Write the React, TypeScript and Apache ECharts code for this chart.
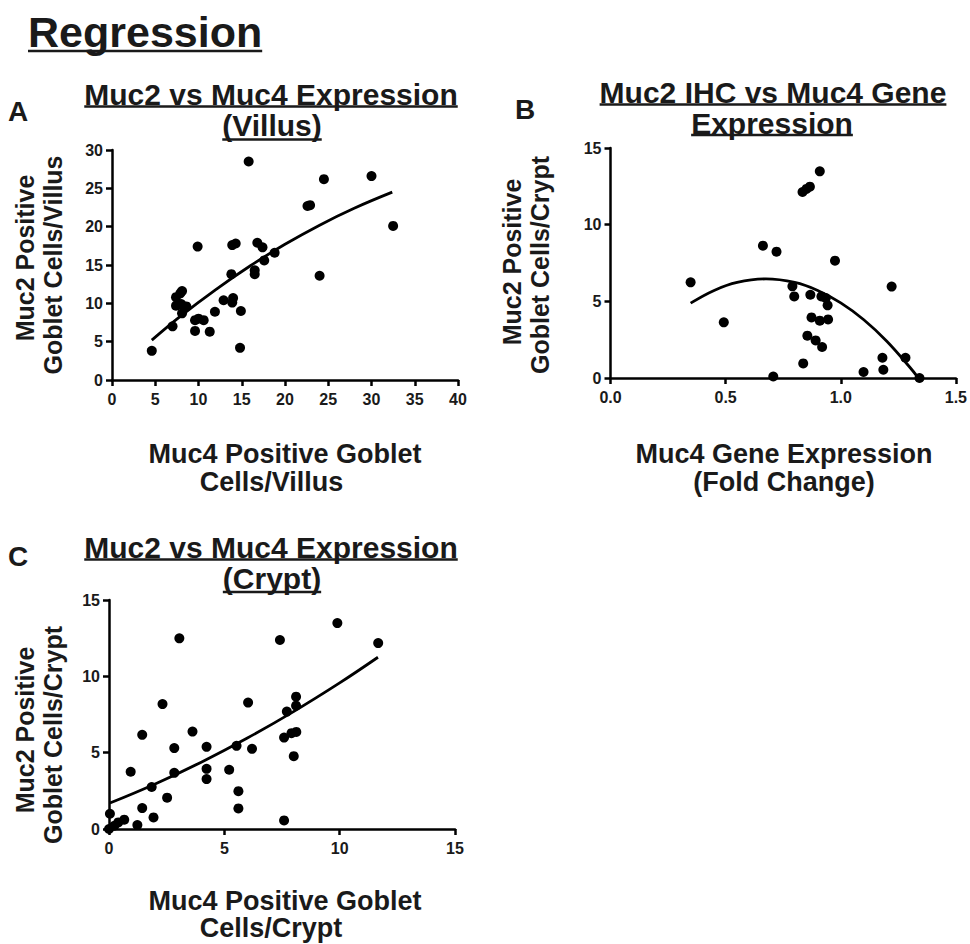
import React, { useEffect, useRef } from "react";
import * as echarts from "echarts";

// ---------- Data ----------
// Panel A: Villus
const villusMuc4 = [4.6, 15.8, 24.5, 30.0, 32.5, 22.6, 22.9, 24.0, 9.9, 13.9, 14.3, 16.8, 17.4, 18.8, 17.6, 16.5, 16.5, 13.8, 12.9, 14.0, 13.9, 14.9, 14.8, 11.9, 11.3, 10.6, 10.0, 9.6, 9.6, 7.0, 7.4, 8.1, 7.9, 7.4, 8.0, 8.6, 8.1];
const villusMuc2 = [3.8, 28.5, 26.2, 26.6, 20.1, 22.7, 22.8, 13.6, 17.4, 17.6, 17.8, 17.9, 17.3, 16.6, 15.6, 14.3, 13.8, 13.8, 10.4, 10.7, 10.1, 9.0, 4.2, 8.9, 6.3, 7.8, 8.0, 7.8, 6.4, 7.0, 10.8, 11.6, 11.3, 9.7, 9.9, 9.6, 8.7];
const villusFitX = [4.6, 8, 12, 16, 20, 24, 28, 32.4];
const villusFitY = [5.2, 8.4, 11.8, 14.9, 17.7, 20.2, 22.4, 24.5];

// Panel B: gene expression vs crypt IHC
const geneFold = [0.348, 0.492, 0.662, 0.721, 0.707, 0.834, 0.851, 0.866, 0.909, 0.975, 0.79, 0.798, 0.868, 0.916, 0.935, 0.943, 0.873, 0.909, 0.945, 0.855, 0.891, 0.919, 0.837, 1.221, 1.181, 1.185, 1.099, 1.281, 1.342];
const geneMuc2 = [6.24, 3.63, 8.63, 8.24, 0.1, 12.13, 12.33, 12.48, 13.48, 7.65, 5.98, 5.32, 5.43, 5.32, 5.22, 4.74, 3.95, 3.74, 3.82, 2.76, 2.45, 2.02, 0.95, 5.96, 1.32, 0.54, 0.39, 1.32, 0.0];
const geneFitX = [0.348, 0.45, 0.55, 0.675, 0.8, 0.9, 1.0, 1.1, 1.2, 1.3, 1.335];
const geneFitY = [4.88, 5.71, 6.23, 6.46, 6.23, 5.71, 4.9, 3.8, 2.4, 0.7, 0.04];

// Panel C: Crypt
const cryptMuc4 = [0.04, 0, 0.4, 0.66, 0.23, 1.23, 0.94, 1.44, 1.44, 1.85, 1.93, 2.32, 2.52, 2.83, 2.83, 3.05, 3.62, 4.23, 4.23, 4.23, 5.21, 5.53, 5.61, 5.61, 6.03, 6.2, 7.41, 7.59, 7.59, 7.71, 7.91, 8.12, 8.01, 8.11, 8.11, 9.9, 11.67];
const cryptMuc2 = [1.0, 0, 0.43, 0.61, 0.21, 0.26, 3.75, 6.17, 1.37, 2.75, 0.76, 8.18, 2.05, 5.3, 3.68, 12.49, 6.38, 5.38, 3.94, 3.27, 3.88, 5.45, 2.48, 1.35, 8.28, 5.25, 12.38, 0.56, 5.99, 7.69, 6.28, 6.36, 4.77, 8.67, 8.08, 13.49, 12.18];
const cryptFitX = [0.04, 2, 4, 6, 8, 10, 11.66];
const cryptFitY = [1.7, 2.95, 4.38, 5.96, 7.69, 9.57, 11.25];

const zip = (xs: number[], ys: number[]) => xs.map((x, i) => [x, ys[i]]);

const FONT = "Liberation Sans";
const INK = "#1a1a1a";

export default function App() {
  const ref = useRef<HTMLDivElement>(null);
  useEffect(() => {
    if (!ref.current) return;
    const chart = echarts.init(ref.current, undefined, { renderer: "svg" });
    const cv = document.createElement("canvas").getContext("2d")!;
    const tw = (t: string, fs: number) => {
      cv.font = `bold ${fs}px "${FONT}"`;
      return cv.measureText(t).width;
    };
    const graphics: any[] = [];
    const txt = (text: string, x: number, baseline: number, fs: number, align: string, underlineY?: number) => {
      graphics.push({
        type: "text",
        x,
        y: baseline - 0.29 * fs,
        z: 10,
        style: { text, fill: INK, fontSize: fs, fontWeight: "bold", fontFamily: FONT, textAlign: align, verticalAlign: "middle", textVerticalAlign: "middle" },
      });
      if (underlineY !== undefined) {
        const w = tw(text, fs);
        const x1 = align === "center" ? x - w / 2 : x;
        graphics.push({ type: "line", z: 10, shape: { x1, y1: underlineY, x2: x1 + w, y2: underlineY }, style: { stroke: INK, lineWidth: 2.5 } });
      }
    };
    const vtxt = (text: string, x: number, cy: number, fs: number) => {
      graphics.push({
        type: "text",
        x,
        y: cy,
        rotation: Math.PI / 2,
        z: 10,
        style: { text, fill: INK, fontSize: fs, fontWeight: "bold", fontFamily: FONT, textAlign: "center", verticalAlign: "middle", textVerticalAlign: "middle" },
      });
    };

    txt("Regression", 28, 44, 43, "left", 51);
    txt("A", 8, 120, 28, "left");
    txt("B", 515, 118, 28, "left");
    txt("C", 8, 565, 28, "left");

    txt("Muc2 vs Muc4 Expression", 271, 103, 30, "center", 106.5);
    txt("(Villus)", 272, 134, 30, "center", 139.5);
    txt("Muc2 IHC vs Muc4 Gene", 773, 101, 30, "center", 104.5);
    txt("Expression", 772, 132, 30, "center", 135);
    txt("Muc2 vs Muc4 Expression", 271, 556, 30, "center", 559.5);
    txt("(Crypt)", 272, 587, 30, "center", 592);

    vtxt("Muc2 Positive", 25, 258, 25);
    vtxt("Goblet Cells/Villus", 53, 265, 25);
    vtxt("Muc2 Positive", 512, 262, 25);
    vtxt("Goblet Cells/Crypt", 540, 265, 25);
    vtxt("Muc2 Positive", 25, 730, 25);
    vtxt("Goblet Cells/Crypt", 53, 735, 25);

    txt("Muc4 Positive Goblet", 285, 462, 27, "center");
    txt("Cells/Villus", 271.5, 490, 27, "center");
    txt("Muc4 Gene Expression", 784, 462, 27, "center");
    txt("(Fold Change)", 784, 490, 27, "center");
    txt("Muc4 Positive Goblet", 285, 909, 27, "center");
    txt("Cells/Crypt", 271, 936, 27, "center");

    const axisCommon = (extra: any, isX: boolean) => ({
      type: "value",
      axisLine: { show: true, onZero: false, lineStyle: { color: "#000", width: 2.5 } },
      axisTick: { show: true, length: 6, lineStyle: { color: "#000", width: 2.5 } },
      splitLine: { show: false },
      axisLabel: { color: INK, fontSize: 16, fontWeight: "bold", fontFamily: FONT, margin: isX ? 11 : 9 },
      ...extra,
    });

    const scatter = (data: number[][], idx: number) => ({
      type: "scatter",
      xAxisIndex: idx,
      yAxisIndex: idx,
      data,
      symbol: "circle",
      symbolSize: 10,
      clip: false,
      itemStyle: { color: "#000", opacity: 1 },
      z: 3,
    });
    const fit = (data: number[][], idx: number) => ({
      type: "line",
      xAxisIndex: idx,
      yAxisIndex: idx,
      data,
      smooth: 0.4,
      showSymbol: false,
      symbol: "none",
      lineStyle: { color: "#000", width: 2.8 },
      z: 4,
    });

    chart.setOption({
      animation: false,
      backgroundColor: "#fff",
      grid: [
        { left: 112, top: 150, width: 346, height: 230 },
        { left: 610.5, top: 148, width: 346, height: 230 },
        { left: 109, top: 600, width: 346, height: 229 },
      ],
      xAxis: [
        axisCommon({ gridIndex: 0, min: 0, max: 40, interval: 5 }, true),
        axisCommon({ gridIndex: 1, min: 0, max: 1.5, interval: 0.5, axisLabel: { color: INK, fontSize: 16, fontWeight: "bold", fontFamily: FONT, margin: 11, formatter: (v: number) => v.toFixed(1) } }, true),
        axisCommon({ gridIndex: 2, min: 0, max: 15, interval: 5 }, true),
      ],
      yAxis: [
        axisCommon({ gridIndex: 0, min: 0, max: 30, interval: 5 }, false),
        axisCommon({ gridIndex: 1, min: 0, max: 15, interval: 5 }, false),
        axisCommon({ gridIndex: 2, min: 0, max: 15, interval: 5 }, false),
      ],
      series: [
        scatter(zip(villusMuc4, villusMuc2), 0),
        fit(zip(villusFitX, villusFitY), 0),
        scatter(zip(geneFold, geneMuc2), 1),
        fit(zip(geneFitX, geneFitY), 1),
        scatter(zip(cryptMuc4, cryptMuc2), 2),
        fit(zip(cryptFitX, cryptFitY), 2),
      ],
      graphic: graphics,
    });
    return () => chart.dispose();
  }, []);
  return <div ref={ref} style={{ position: "absolute", left: 0, top: 0, width: 970, height: 944 }} />;
}
